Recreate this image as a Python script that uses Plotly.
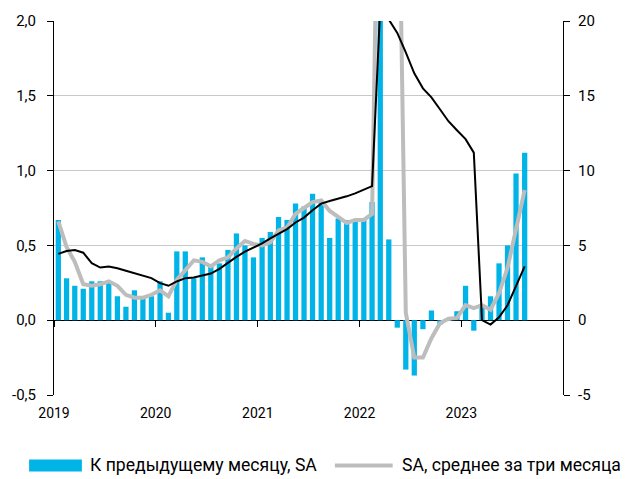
import plotly.graph_objects as go
import pandas as pd

# ---- data (Jan 2019 - Aug 2023, monthly) ----
months = pd.date_range("2019-01-01", "2023-08-01", freq="MS").strftime("%Y-%m-%d").tolist()

mom_sa = [0.67, 0.28, 0.23, 0.21, 0.26, 0.26, 0.25, 0.16, 0.09, 0.20, 0.155, 0.16,
          0.26, 0.05, 0.46, 0.46, 0.28, 0.42, 0.36, 0.38, 0.47, 0.58, 0.50, 0.42,
          0.55, 0.59, 0.69, 0.67, 0.78, 0.76, 0.845, 0.79, 0.55, 0.68, 0.67, 0.66,
          0.68, 0.79, 10.5, 0.54, -0.05, -0.33, -0.37, -0.06, 0.065, -0.03, 0.01, 0.06,
          0.23, -0.07, 0.10, 0.16, 0.38, 0.50, 0.98, 1.12]

avg3_sa = [0.66, 0.49, 0.39, 0.24, 0.23, 0.24, 0.26, 0.23, 0.17, 0.15, 0.15, 0.17,
           0.20, 0.16, 0.27, 0.34, 0.40, 0.39, 0.36, 0.40, 0.42, 0.48, 0.53, 0.51,
           0.50, 0.52, 0.60, 0.62, 0.71, 0.75, 0.79, 0.80, 0.73, 0.69, 0.65, 0.67,
           0.67, 0.71, 3.99, 3.94, 3.66, 0.05, -0.25, -0.25, -0.12, -0.02, 0.01, 0.015,
           0.10, 0.08, 0.10, 0.07, 0.18, 0.35, 0.60, 0.87]

yoy = [4.43, 4.63, 4.69, 4.51, 3.81, 3.52, 3.59, 3.47, 3.30, 3.14, 2.99, 2.81,
       2.48, 2.30, 2.59, 2.81, 2.86, 3.00, 3.12, 3.43, 3.85, 4.23, 4.58, 4.85,
       5.13, 5.47, 5.78, 6.09, 6.53, 6.86, 7.35, 7.79, 7.97, 8.12, 8.28, 8.48,
       8.72, 8.96, 21.0, 20.1, 19.2, 17.9, 16.5, 15.5, 14.9, 14.1, 13.3, 12.7,
       12.1, 11.2, 0.0, -0.29, 0.2, 1.0, 2.3, 3.6]

year_ticks = ["2019-01-01", "2020-01-01", "2021-01-01", "2022-01-01", "2023-01-01"]
year_labels = ["2019", "2020", "2021", "2022", "2023"]
left_ticks = [-0.5, 0.0, 0.5, 1.0, 1.5, 2.0]
left_labels = ["-0,5", "0,0", "0,5", "1,0", "1,5", "2,0"]
right_ticks = [-5, 0, 5, 10, 15, 20]
right_labels = ["-5", "0", "5", "10", "15", "20"]

bar_name = "К предыдущему месяцу, SA"
avg_name = "SA, среднее за три месяца"

BLUE = "#00B4E8"
GREY = "#BDBDBD"
FONT = "Roboto"

fig = go.Figure()
fig.add_trace(go.Bar(x=months, y=mom_sa, name=bar_name, marker_color=BLUE,
                     marker_line_width=0, xperiod="M1", xperiodalignment="middle",
                     showlegend=False))
fig.add_trace(go.Scatter(x=months, y=avg3_sa, name=avg_name, mode="lines",
                         line=dict(color=GREY, width=4), xperiod="M1",
                         xperiodalignment="middle", showlegend=False))
fig.add_trace(go.Scatter(x=months, y=yoy, name="г/г", mode="lines",
                         line=dict(color="black", width=2), xperiod="M1",
                         xperiodalignment="middle", xaxis="x2", yaxis="y2",
                         showlegend=False))

W, H = 625, 479
ML, MR, MT, MB = 52, 62, 18, 84
PW, PH = W - ML - MR, H - MT - MB

def px(x):
    return (x - ML) / PW

def py(y):
    return (H - MB - y) / PH

xr = ["2019-01-01", "2024-01-01"]
fig.update_layout(
    width=W, height=H,
    margin=dict(l=ML, r=MR, t=MT, b=MB, pad=0),
    paper_bgcolor="white", plot_bgcolor="white",
    bargap=0.36,
    font=dict(family=FONT, size=14, color="black"),
    xaxis=dict(type="date", range=xr, tickvals=year_ticks, ticktext=year_labels,
               showgrid=False, zeroline=False, showline=False, ticks="",
               ticklabelstandoff=8, tickfont=dict(size=14)),
    xaxis2=dict(type="date", range=xr, matches="x", overlaying="x", anchor="free",
                position=0.2, tickvals=year_ticks, showticklabels=False,
                ticks="outside", ticklen=6, tickcolor="black", tickwidth=1,
                showgrid=False, zeroline=False, showline=False),
    yaxis=dict(range=[-0.5, 2.0], tickvals=left_ticks, ticktext=left_labels,
               showgrid=True, gridcolor="#C8C8C8", gridwidth=1,
               zeroline=True, zerolinecolor="black", zerolinewidth=1,
               showline=True, linecolor="black", linewidth=1,
               ticks="outside", ticklen=6, tickcolor="black",
               ticklabelstandoff=8, tickfont=dict(size=15)),
    yaxis2=dict(range=[-5, 20], tickvals=right_ticks, ticktext=right_labels,
                overlaying="y", side="right", anchor="x2",
                showgrid=False, zeroline=False,
                showline=True, linecolor="black", linewidth=1,
                ticks="outside", ticklen=6, tickcolor="black",
                ticklabelstandoff=5, tickfont=dict(size=15)),
)

# manual legend (wide swatches as in the reference)
LY = 466
fig.add_shape(type="rect", xref="paper", yref="paper",
              x0=px(27), x1=px(80), y0=py(LY - 6), y1=py(LY + 6),
              fillcolor=BLUE, line_width=0)
fig.add_shape(type="line", xref="paper", yref="paper",
              x0=px(334), x1=px(392), y0=py(LY), y1=py(LY),
              line=dict(color=GREY, width=4))
fig.add_annotation(text=bar_name, xref="paper", yref="paper", x=px(86), y=py(LY),
                   xanchor="left", yanchor="middle", showarrow=False,
                   font=dict(family=FONT, size=17.6, color="black"))
fig.add_annotation(text=avg_name, xref="paper", yref="paper", x=px(399), y=py(LY),
                   xanchor="left", yanchor="middle", showarrow=False,
                   font=dict(family=FONT, size=17.6, color="black"))

fig.write_html("out.html", config={"displayModeBar": False},
               post_script="document.body.style.margin='0';document.body.style.overflow='hidden';")
